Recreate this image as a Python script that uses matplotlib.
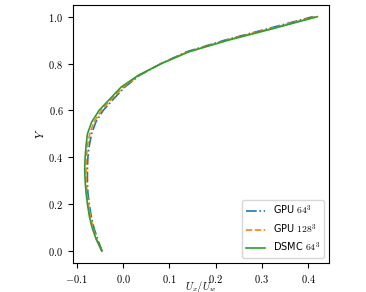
import numpy as np
import matplotlib
matplotlib.use("Agg")
import matplotlib.pyplot as plt
from matplotlib.ticker import FuncFormatter

plt.rcParams['font.family'] = 'sans-serif'
plt.rcParams['font.sans-serif'] = ['DejaVu Sans']
plt.rcParams['mathtext.fontset'] = 'cm'
plt.rcParams['font.size'] = 8

# wall-normal position
y = [0.00, 0.05, 0.10, 0.15, 0.20, 0.25, 0.30, 0.35, 0.40, 0.45, 0.50,
     0.55, 0.60, 0.65, 0.70, 0.75, 0.80, 0.85, 0.90, 0.95, 1.00]

# U_x / U_w profiles
gpu64 = [-0.045, -0.055, -0.063, -0.069, -0.073, -0.076, -0.077, -0.077, -0.076, -0.073, -0.068,
         -0.059, -0.043, -0.020, 0.004, 0.036, 0.082, 0.137, 0.220, 0.315, 0.410]
gpu128 = [-0.046, -0.057, -0.065, -0.071, -0.075, -0.078, -0.080, -0.080, -0.079, -0.077, -0.072,
          -0.063, -0.047, -0.024, 0.001, 0.034, 0.082, 0.140, 0.224, 0.320, 0.415]
dsmc64 = [-0.046, -0.058, -0.067, -0.073, -0.077, -0.080, -0.082, -0.083, -0.082, -0.080, -0.077,
          -0.068, -0.052, -0.028, -0.004, 0.033, 0.083, 0.142, 0.228, 0.326, 0.420]

fig = plt.figure(figsize=(3.66, 2.92), dpi=100)
ax = fig.add_axes([0.1995, 0.100, 0.6995, 0.883])

ax.plot(gpu64, y, '-.', color='tab:blue', lw=1.2, label=r'GPU $64^3$')
ax.plot(gpu128, y, '--', color='tab:orange', lw=1.2, label=r'GPU $128^3$')
ax.plot(dsmc64, y, '-', color='tab:green', lw=1.2, label=r'DSMC $64^3$')

ax.set_xticks([-0.1, 0.0, 0.1, 0.2, 0.3, 0.4])
ax.set_yticks([0.0, 0.2, 0.4, 0.6, 0.8, 1.0])
tex = FuncFormatter(lambda v, pos: r'$%.1f$' % (0.0 if abs(v) < 1e-9 else v))
ax.xaxis.set_major_formatter(tex)
ax.yaxis.set_major_formatter(tex)
ax.tick_params(labelsize=7.5, length=3.5, pad=3.5)

ax.set_xlabel(r'$U_x/U_w$', fontsize=7.5)
ax.set_ylabel(r'$Y$', fontsize=8)
ax.xaxis.set_label_coords(0.5, -0.062)
ax.yaxis.set_label_coords(-0.107, 0.5)

ax.legend(loc='lower right', fontsize=7)

fig.savefig('out.png', dpi=100)
